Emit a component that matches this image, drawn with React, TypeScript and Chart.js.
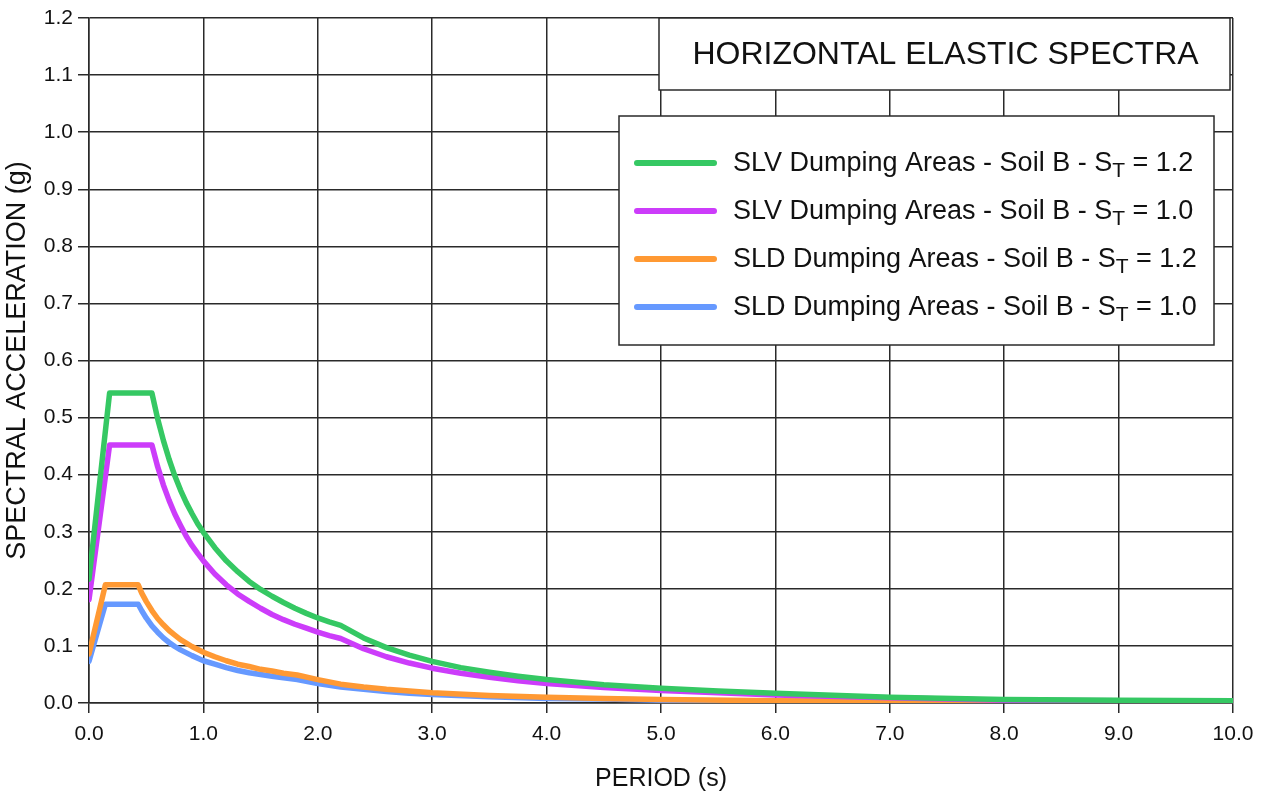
import React, { useEffect, useRef } from 'react';
import { Chart, registerables } from 'chart.js';

Chart.register(...registerables);

// Periods (s) and spectral accelerations (g)
const slvPeriods = [0, 0.18, 0.55, 0.6, 0.65, 0.7, 0.75, 0.8, 0.85, 0.9, 0.95, 1.0, 1.1, 1.2, 1.3, 1.4, 1.5, 1.6, 1.7, 1.8, 1.9, 2.0, 2.1, 2.2, 2.4, 2.6, 2.8, 3.0, 3.25, 3.5, 3.75, 4.0, 4.5, 5.0, 5.5, 6.0, 7.0, 8.0, 9.0, 10.0];
const slvSt12 = [0.217, 0.543, 0.543, 0.498, 0.460, 0.427, 0.398, 0.373, 0.351, 0.332, 0.314, 0.299, 0.272, 0.249, 0.230, 0.213, 0.199, 0.187, 0.176, 0.166, 0.157, 0.149, 0.142, 0.136, 0.114, 0.097, 0.084, 0.073, 0.062, 0.054, 0.047, 0.041, 0.032, 0.026, 0.021, 0.017, 0.010, 0.006, 0.005, 0.004];
const slvSt10 = [0.181, 0.452, 0.452, 0.414, 0.382, 0.355, 0.331, 0.311, 0.292, 0.276, 0.262, 0.249, 0.226, 0.207, 0.191, 0.178, 0.166, 0.155, 0.146, 0.138, 0.131, 0.124, 0.118, 0.113, 0.095, 0.081, 0.070, 0.061, 0.052, 0.045, 0.039, 0.034, 0.027, 0.022, 0.018, 0.014, 0.009, 0.005, 0.004, 0.003];

const sldPeriods = [0, 0.143, 0.43, 0.46, 0.5, 0.55, 0.6, 0.65, 0.7, 0.75, 0.8, 0.9, 1.0, 1.1, 1.2, 1.3, 1.4, 1.5, 1.6, 1.7, 1.82, 2.0, 2.2, 2.4, 2.6, 2.8, 3.0, 3.5, 4.0, 4.5, 5.0, 6.0, 7.0, 8.0, 9.0, 10.0];
const sldSt12 = [0.086, 0.207, 0.207, 0.193, 0.178, 0.162, 0.148, 0.137, 0.127, 0.119, 0.111, 0.099, 0.089, 0.081, 0.074, 0.068, 0.064, 0.059, 0.056, 0.052, 0.049, 0.041, 0.033, 0.028, 0.024, 0.021, 0.018, 0.013, 0.010, 0.008, 0.006, 0.004, 0.003, 0.002, 0.002, 0.001];
const sldSt10 = [0.073, 0.173, 0.173, 0.162, 0.149, 0.135, 0.124, 0.114, 0.106, 0.099, 0.093, 0.083, 0.074, 0.068, 0.062, 0.057, 0.053, 0.050, 0.047, 0.044, 0.041, 0.034, 0.028, 0.024, 0.020, 0.017, 0.015, 0.011, 0.008, 0.007, 0.005, 0.003, 0.002, 0.002, 0.001, 0.001];

const seriesNames = [
  'SLV Dumping Areas - Soil B - S',
  'SLV Dumping Areas - Soil B - S',
  'SLD Dumping Areas - Soil B - S',
  'SLD Dumping Areas - Soil B - S',
];
const seriesSubscripts = ['T', 'T', 'T', 'T'];
const seriesSuffixes = [' = 1.2', ' = 1.0', ' = 1.2', ' = 1.0'];
const seriesColors = ['#35c863', '#cc3cfa', '#ff9933', '#6699ff'];

const chartTitle = 'HORIZONTAL ELASTIC SPECTRA';
const xTitle = 'PERIOD (s)';
const yTitle = 'SPECTRAL ACCELERATION (g)';

const FONT = '"Liberation Sans", Arial, sans-serif';
const GRID = '#2a2a2a';

const toPoints = (xs: number[], ys: number[]) => xs.map((x, i) => ({ x, y: ys[i] }));

const overlayPlugin = {
  id: 'overlayBoxes',
  afterDraw(chart: any) {
    const ctx = chart.ctx as CanvasRenderingContext2D;
    ctx.save();
    // Title box
    const tb = { x: 659, y: 18, w: 571, h: 72 };
    ctx.fillStyle = '#ffffff';
    ctx.fillRect(tb.x, tb.y, tb.w, tb.h);
    ctx.strokeStyle = GRID;
    ctx.lineWidth = 1.5;
    ctx.strokeRect(tb.x, tb.y, tb.w, tb.h);
    ctx.fillStyle = '#111';
    ctx.font = `32px ${FONT}`;
    ctx.textAlign = 'center';
    ctx.textBaseline = 'middle';
    ctx.fillText(chartTitle, tb.x + tb.w / 2 + 1, tb.y + tb.h / 2 + 1);

    // Legend box
    const lb = { x: 619, y: 116, w: 595, h: 229 };
    ctx.fillStyle = '#ffffff';
    ctx.fillRect(lb.x, lb.y, lb.w, lb.h);
    ctx.strokeRect(lb.x, lb.y, lb.w, lb.h);
    const rowY = [163, 211, 259, 307];
    chart.data.datasets.forEach((ds: any, i: number) => {
      const y = rowY[i];
      ctx.strokeStyle = ds.borderColor;
      ctx.lineWidth = 6;
      ctx.lineCap = 'round';
      ctx.beginPath();
      ctx.moveTo(637, y);
      ctx.lineTo(714, y);
      ctx.stroke();
      ctx.fillStyle = '#111';
      ctx.textAlign = 'left';
      ctx.textBaseline = 'alphabetic';
      ctx.font = `27px ${FONT}`;
      let x = 733;
      const base = y + 8;
      ctx.fillText(seriesNames[i], x, base);
      x += ctx.measureText(seriesNames[i]).width;
      ctx.font = `21px ${FONT}`;
      ctx.fillText(seriesSubscripts[i], x, base + 6);
      x += ctx.measureText(seriesSubscripts[i]).width;
      ctx.font = `27px ${FONT}`;
      ctx.fillText(seriesSuffixes[i], x, base);
    });
    ctx.restore();
  },
};

export default function App() {
  const ref = useRef<HTMLCanvasElement | null>(null);
  useEffect(() => {
    if (!ref.current) return;
    const datasets = [
      { data: toPoints(slvPeriods, slvSt12) },
      { data: toPoints(slvPeriods, slvSt10) },
      { data: toPoints(sldPeriods, sldSt12) },
      { data: toPoints(sldPeriods, sldSt10) },
    ].map((d, i) => ({
      label: seriesNames[i] + seriesSubscripts[i] + seriesSuffixes[i],
      data: d.data,
      borderColor: seriesColors[i],
      backgroundColor: seriesColors[i],
      borderWidth: 5.5,
      pointRadius: 0,
      fill: false,
      tension: 0,
      borderJoinStyle: 'round' as const,
      borderCapStyle: 'round' as const,
    }));
    const chart = new Chart(ref.current, {
      type: 'line',
      data: { datasets },
      options: {
        responsive: false,
        animation: false,
        layout: { padding: { top: 18, right: 31, left: 0, bottom: 0 } },
        plugins: { legend: { display: false }, tooltip: { enabled: false }, title: { display: false } },
        scales: {
          x: {
            type: 'linear',
            min: 0,
            max: 10,
            afterFit: (s: any) => { s.height = 93; },
            ticks: {
              stepSize: 1,
              callback: (v: any) => Number(v).toFixed(1),
              font: { family: FONT, size: 21 },
              color: '#111',
              padding: 9,
              maxRotation: 0,
            },
            grid: { color: GRID, lineWidth: 1.5, tickLength: 10 },
            border: { color: GRID, width: 1.5 },
            title: { display: true, text: xTitle, font: { family: FONT, size: 25 }, color: '#111', padding: { top: 0, bottom: 2 } },
          },
          y: {
            min: 0,
            max: 1.2,
            afterFit: (s: any) => { s.width = 89; },
            ticks: {
              stepSize: 0.1,
              callback: (v: any) => Number(v).toFixed(1),
              font: { family: FONT, size: 21 },
              color: '#111',
              padding: 5,
            },
            grid: { color: GRID, lineWidth: 1.5, tickLength: 11 },
            border: { color: GRID, width: 1.5 },
            title: { display: true, text: yTitle, font: { family: FONT, size: 27 }, color: '#111', padding: { top: 1, bottom: 0 } },
          },
        },
      },
      plugins: [overlayPlugin],
    });
    return () => chart.destroy();
  }, []);
  return (
    <div style={{ position: 'fixed', left: 0, top: 0, width: 1264, height: 796, background: '#fff' }}>
      <canvas ref={ref} width={1264} height={796} />
    </div>
  );
}
